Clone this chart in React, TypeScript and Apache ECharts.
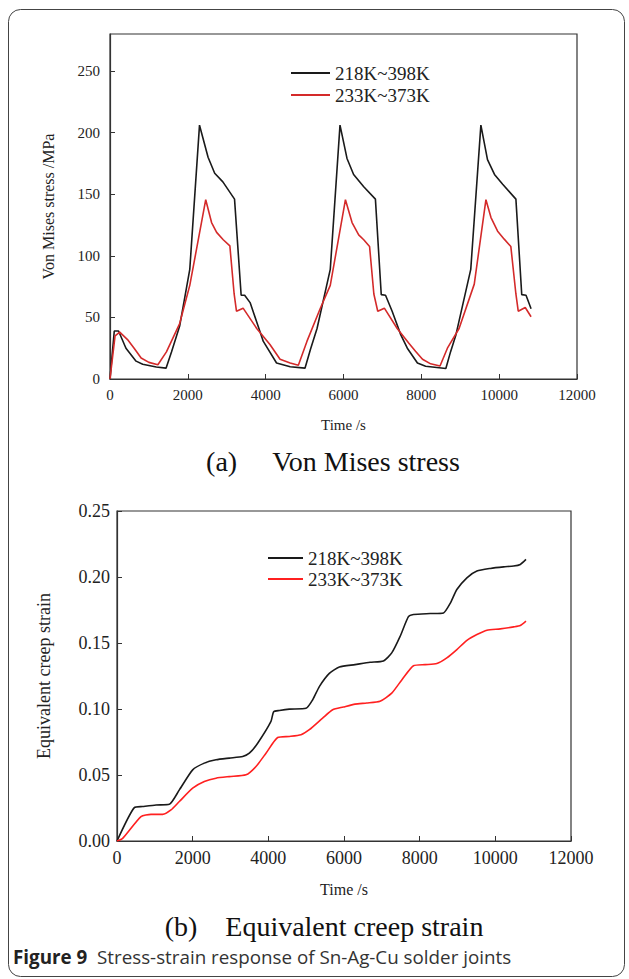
import React, { useEffect, useRef } from "react";
import * as echarts from "echarts";

const SERIES_NAMES = ["218K~398K", "233K~373K"];
const X_TICKS = { min: 0, max: 12000, interval: 2000 };

// Von Mises stress (MPa) vs time (s)
const stressHigh: number[][] = [
  [0, 0], [110, 39], [220, 39], [410, 25], [670, 14.5], [840, 12], [1190, 9.8], [1440, 8.8],
  [1580, 22], [1790, 43], [2050, 89], [2300, 206], [2520, 180], [2690, 167], [2900, 160],
  [3200, 146], [3370, 68], [3460, 68], [3600, 62], [3940, 30.5], [4280, 13], [4630, 10],
  [5010, 8.8], [5150, 24], [5320, 41], [5660, 89], [5910, 206], [6090, 179], [6260, 166],
  [6520, 156], [6820, 146], [6970, 68.5], [7080, 68], [7250, 55], [7470, 36], [7640, 25],
  [7900, 13], [8110, 10.4], [8630, 8.5], [8750, 22], [8890, 36], [9270, 89], [9530, 206],
  [9700, 178], [9880, 166], [10090, 158], [10430, 146], [10580, 68.5], [10690, 68], [10820, 57],
];
const stressLow: number[][] = [
  [0, 0], [130, 35], [250, 38], [450, 32], [620, 25], [800, 17], [1000, 13.5], [1230, 11.6],
  [1450, 22], [1790, 45], [2050, 76], [2460, 145.5], [2610, 127], [2740, 119], [2910, 113],
  [3080, 108], [3190, 69], [3250, 55], [3420, 57.5], [3770, 41], [4110, 28], [4370, 16],
  [4630, 13], [4840, 11.2], [5060, 30.5], [5400, 57], [5660, 76], [6050, 145.5], [6220, 127],
  [6390, 117], [6520, 113], [6670, 107.5], [6780, 69], [6880, 55], [7050, 57.5], [7380, 41],
  [7680, 29], [7850, 22.5], [8030, 16], [8240, 12.3], [8480, 10.5], [8670, 25], [8970, 41],
  [9360, 77], [9660, 145.5], [9790, 131], [9960, 120], [10130, 113.5], [10300, 107.5],
  [10430, 69], [10490, 55], [10670, 58], [10820, 50.5],
];

// Equivalent creep strain vs time (s)
const strainHigh: number[][] = [
  [0, 0], [458, 0.0253], [678, 0.0261], [1031, 0.0273], [1383, 0.0278], [1648, 0.0387],
  [2000, 0.0539], [2308, 0.059], [2617, 0.0615], [2969, 0.0628], [3322, 0.064], [3498, 0.0665],
  [3718, 0.0741], [4070, 0.0906], [4141, 0.098], [4291, 0.0989], [4555, 0.0999], [4996, 0.1005],
  [5172, 0.107], [5348, 0.117], [5612, 0.127], [5877, 0.1318], [6291, 0.1336], [6688, 0.1354],
  [7041, 0.1364], [7262, 0.1425], [7483, 0.155], [7703, 0.17], [7836, 0.1716], [8277, 0.1723],
  [8630, 0.1728], [8807, 0.18], [8983, 0.1905], [9248, 0.1994], [9513, 0.2045], [9866, 0.2065],
  [10219, 0.2077], [10484, 0.2083], [10660, 0.2095], [10810, 0.2133],
];
const strainLow: number[][] = [
  [0, 0], [150, 0.002], [634, 0.0185], [899, 0.0202], [1207, 0.0202], [1427, 0.0235],
  [1648, 0.0299], [2000, 0.04], [2308, 0.045], [2617, 0.0476], [2969, 0.0488], [3410, 0.0501],
  [3674, 0.0564], [3938, 0.0665], [4247, 0.0784], [4555, 0.0792], [4863, 0.0805], [5084, 0.0843],
  [5436, 0.0931], [5700, 0.0994], [5982, 0.1015], [6291, 0.1037], [6600, 0.1045], [6953, 0.1058],
  [7262, 0.112], [7527, 0.122], [7836, 0.1328], [8145, 0.1336], [8454, 0.1344], [8718, 0.1387],
  [8983, 0.145], [9248, 0.152], [9513, 0.1564], [9778, 0.1597], [10131, 0.1607], [10484, 0.1622],
  [10660, 0.1632], [10810, 0.1665],
];

const SERIF = "Liberation Serif";

export default function App() {
  const ref = useRef<HTMLDivElement>(null);
  useEffect(() => {
    document.body.style.margin = "0";
    const chart = echarts.init(ref.current!, null, { renderer: "svg" });
    const axisLine = { show: true, lineStyle: { color: "#333", width: 1.2 } };
    const xAxisBase = (fs: number, gap: number, nameFs: number) => ({
      type: "value",
      min: X_TICKS.min,
      max: X_TICKS.max,
      interval: X_TICKS.interval,
      name: "Time /s",
      nameLocation: "middle",
      nameGap: gap,
      nameTextStyle: { fontFamily: SERIF, fontSize: nameFs, color: "#222" },
      axisLine,
      axisTick: { show: true, inside: true, length: 5, lineStyle: { color: "#333" } },
      axisLabel: { fontFamily: SERIF, fontSize: fs, color: "#222", margin: 8, formatter: (v: number) => String(v) },
      splitLine: { show: false },
    });
    chart.setOption({
      animation: false,
      backgroundColor: "#fff",
      textStyle: { fontFamily: SERIF },
      grid: [
        { left: 110, top: 34, width: 467, height: 345, show: true, borderColor: "#333", borderWidth: 1.2 },
        { left: 117, top: 511, width: 454, height: 330, show: true, borderColor: "#333", borderWidth: 1.2 },
      ],
      xAxis: [
        { ...xAxisBase(15, 38, 15), gridIndex: 0 },
        { ...xAxisBase(18, 40, 16), gridIndex: 1 },
      ],
      yAxis: [
        {
          type: "value", gridIndex: 0, min: 0, max: 280, interval: 50,
          name: "Von Mises stress /MPa", nameLocation: "middle", nameGap: 54,
          nameTextStyle: { fontFamily: SERIF, fontSize: 16, color: "#222" },
          axisLine,
          axisTick: { show: true, inside: true, length: 5, lineStyle: { color: "#333" } },
          axisLabel: { fontFamily: SERIF, fontSize: 15, color: "#222", margin: 10, showMaxLabel: false },
          splitLine: { show: false },
        },
        {
          type: "value", gridIndex: 1, min: 0, max: 0.25, interval: 0.05,
          name: "Equivalent creep strain", nameLocation: "middle", nameGap: 64,
          nameTextStyle: { fontFamily: SERIF, fontSize: 18, color: "#222" },
          axisLine,
          axisTick: { show: true, inside: true, length: 5, lineStyle: { color: "#333" } },
          axisLabel: { fontFamily: SERIF, fontSize: 18, color: "#222", margin: 7, formatter: (v: number) => v.toFixed(2) },
          splitLine: { show: false },
        },
      ],
      legend: [
        {
          left: 291, top: 63, padding: 0, orient: "vertical", itemWidth: 39, itemHeight: 2, icon: "rect", itemGap: 2,
          textStyle: { fontFamily: SERIF, fontSize: 19, color: "#222", lineHeight: 20 },
          data: [
            { name: SERIES_NAMES[0], itemStyle: { color: "#1a1a1a" } },
            { name: SERIES_NAMES[1], itemStyle: { color: "#d42a2a" } },
          ],
        },
        {
          left: 268, top: 548, padding: 0, orient: "vertical", itemWidth: 35, itemHeight: 2, icon: "rect", itemGap: 1,
          textStyle: { fontFamily: SERIF, fontSize: 19, color: "#222", lineHeight: 20 },
          data: [
            { name: SERIES_NAMES[0], itemStyle: { color: "#1a1a1a" } },
            { name: SERIES_NAMES[1], itemStyle: { color: "#ff2020" } },
          ],
        },
      ],
      series: [
        { name: SERIES_NAMES[0], type: "line", xAxisIndex: 0, yAxisIndex: 0, data: stressHigh, symbol: "none", lineStyle: { color: "#1a1a1a", width: 1.6 }, itemStyle: { color: "#1a1a1a" } },
        { name: SERIES_NAMES[1], type: "line", xAxisIndex: 0, yAxisIndex: 0, data: stressLow, symbol: "none", lineStyle: { color: "#d42a2a", width: 1.6 }, itemStyle: { color: "#d42a2a" } },
        { name: SERIES_NAMES[0], type: "line", xAxisIndex: 1, yAxisIndex: 1, data: strainHigh, symbol: "none", smooth: 0.2, lineStyle: { color: "#1a1a1a", width: 1.6 }, itemStyle: { color: "#1a1a1a" } },
        { name: SERIES_NAMES[1], type: "line", xAxisIndex: 1, yAxisIndex: 1, data: strainLow, symbol: "none", smooth: 0.2, lineStyle: { color: "#ff2020", width: 1.6 }, itemStyle: { color: "#ff2020" } },
      ],
      graphic: [
        { type: "rect", shape: { x: 8.5, y: 9.5, width: 616, height: 967, r: 12 }, style: { fill: "none", stroke: "#444", lineWidth: 1 }, silent: true },
        { type: "text", x: 333, y: 461, style: { text: "(a)\u2003\u00a0Von Mises stress", font: "28px Liberation Serif", fill: "#111", textAlign: "center", textVerticalAlign: "middle" } },
        { type: "text", x: 324, y: 926, style: { text: "(b)\u2003Equivalent creep strain", font: "28px Liberation Serif", fill: "#111", textAlign: "center", textVerticalAlign: "middle" } },
        {
          type: "text", x: 13, y: 957,
          style: {
            text: "{b|Figure 9}\u00a0\u00a0Stress-strain response of Sn-Ag-Cu solder joints",
            font: "18.8px Open Sans", fill: "#333", textVerticalAlign: "middle",
            rich: { b: { fontWeight: "bold", fontSize: 18.8, fontFamily: "Open Sans", fill: "#222" } },
          },
        },
      ],
    });
    return () => chart.dispose();
  }, []);
  return <div ref={ref} style={{ width: 629, height: 979 }} />;
}
